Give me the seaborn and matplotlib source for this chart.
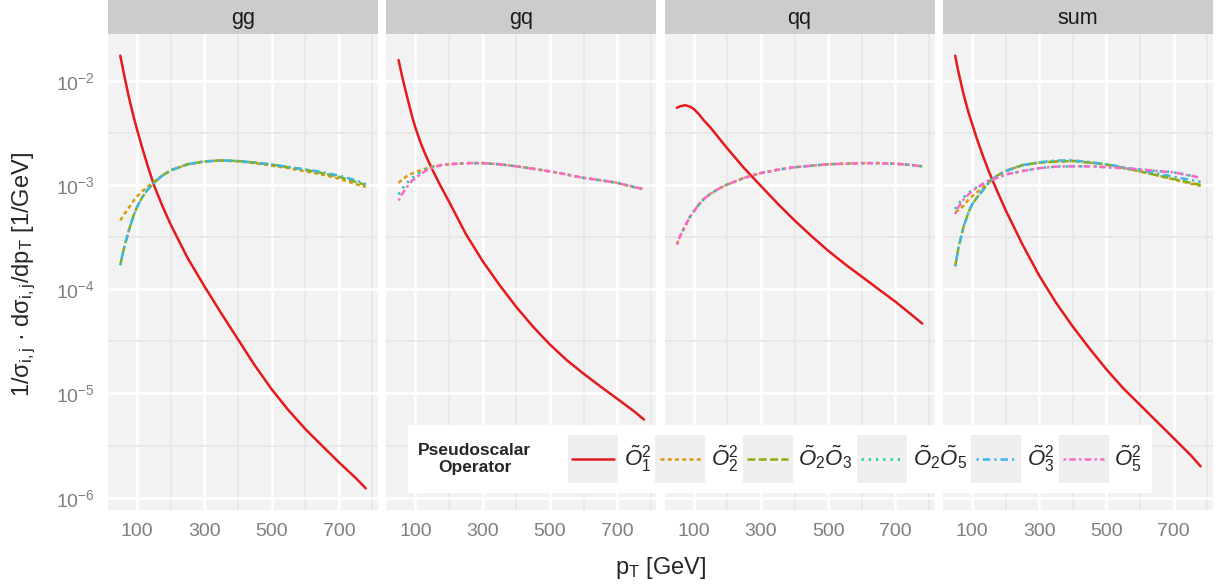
import numpy as np
import pandas as pd
import matplotlib
matplotlib.use("Agg")
import matplotlib.pyplot as plt
import seaborn as sns
from matplotlib.lines import Line2D
from matplotlib.patches import Rectangle
from matplotlib.legend_handler import HandlerBase
from matplotlib.font_manager import FontProperties
from matplotlib.offsetbox import DrawingArea
from matplotlib.ticker import FixedLocator, FuncFormatter, NullFormatter

# ---------------- data ----------------
pt = [50, 60, 75, 90, 100, 115, 130, 150, 175, 200, 250, 300, 350, 400, 450, 500, 550, 600, 650, 700, 750, 780]
channels = ["gg", "gq", "qq", "sum"]
operators = ["O1sq", "O2sq", "O2O3", "O2O5", "O3sq", "O5sq"]
op_labels = [r"$\tilde{O}_1^2$", r"$\tilde{O}_2^2$", r"$\tilde{O}_2\tilde{O}_3$",
             r"$\tilde{O}_2\tilde{O}_5$", r"$\tilde{O}_3^2$", r"$\tilde{O}_5^2$"]

# gg channel
gg_O1sq = [1.74e-2, 1.20e-2, 7.08e-3, 4.47e-3, 3.39e-3, 2.29e-3, 1.58e-3, 1.0e-3, 6.31e-4, 4.17e-4, 2.0e-4,
           1.07e-4, 5.89e-5, 3.31e-5, 1.86e-5, 1.10e-5, 6.92e-6, 4.57e-6, 3.16e-6, 2.19e-6, 1.55e-6, 1.23e-6]
gg_O2sq = [4.57e-4, 5.13e-4, 6.03e-4, 7.08e-4, 7.76e-4, 8.71e-4, 9.55e-4, 1.07e-3, 1.23e-3, 1.38e-3, 1.58e-3,
           1.68e-3, 1.72e-3, 1.68e-3, 1.62e-3, 1.53e-3, 1.45e-3, 1.35e-3, 1.26e-3, 1.15e-3, 1.02e-3, 9.55e-4]
gg_O2O3 = [1.70e-4, 2.40e-4, 3.63e-4, 5.13e-4, 6.17e-4, 7.59e-4, 8.91e-4, 1.05e-3, 1.23e-3, 1.38e-3, 1.58e-3,
           1.68e-3, 1.72e-3, 1.70e-3, 1.64e-3, 1.57e-3, 1.48e-3, 1.40e-3, 1.30e-3, 1.20e-3, 1.07e-3, 1.0e-3]
gg_O3sq = [1.70e-4, 2.40e-4, 3.63e-4, 5.13e-4, 6.17e-4, 7.59e-4, 8.91e-4, 1.05e-3, 1.23e-3, 1.38e-3, 1.58e-3,
           1.68e-3, 1.72e-3, 1.70e-3, 1.64e-3, 1.57e-3, 1.49e-3, 1.41e-3, 1.33e-3, 1.23e-3, 1.11e-3, 1.02e-3]

# gq channel
gq_O1sq = [1.58e-2, 1.12e-2, 7.08e-3, 4.57e-3, 3.55e-3, 2.57e-3, 1.95e-3, 1.41e-3, 9.77e-4, 6.92e-4, 3.39e-4,
           1.86e-4, 1.10e-4, 6.76e-5, 4.37e-5, 2.95e-5, 2.09e-5, 1.55e-5, 1.17e-5, 8.91e-6, 6.76e-6, 5.62e-6]
gq_O2sq = [1.05e-3, 1.12e-3, 1.22e-3, 1.29e-3, 1.33e-3, 1.38e-3, 1.43e-3, 1.50e-3, 1.55e-3, 1.58e-3, 1.62e-3,
           1.62e-3, 1.58e-3, 1.51e-3, 1.43e-3, 1.35e-3, 1.26e-3, 1.17e-3, 1.11e-3, 1.05e-3, 9.55e-4, 9.12e-4]
gq_O2O5 = [8.13e-4, 9.12e-4, 1.05e-3, 1.16e-3, 1.23e-3, 1.32e-3, 1.40e-3, 1.48e-3, 1.55e-3, 1.58e-3, 1.62e-3,
           1.62e-3, 1.58e-3, 1.51e-3, 1.43e-3, 1.35e-3, 1.26e-3, 1.17e-3, 1.11e-3, 1.05e-3, 9.55e-4, 9.12e-4]
gq_O5sq = [7.08e-4, 8.13e-4, 9.55e-4, 1.10e-3, 1.16e-3, 1.27e-3, 1.36e-3, 1.46e-3, 1.55e-3, 1.58e-3, 1.62e-3,
           1.62e-3, 1.58e-3, 1.51e-3, 1.43e-3, 1.35e-3, 1.26e-3, 1.17e-3, 1.11e-3, 1.05e-3, 9.55e-4, 9.12e-4]

# qq channel
qq_O1sq = [5.50e-3, 5.69e-3, 5.82e-3, 5.62e-3, 5.37e-3, 4.79e-3, 4.17e-3, 3.55e-3, 2.82e-3, 2.24e-3, 1.45e-3,
           9.77e-4, 6.61e-4, 4.57e-4, 3.24e-4, 2.34e-4, 1.74e-4, 1.32e-4, 1.0e-4, 7.59e-5, 5.62e-5, 4.68e-5]
qq_O2sq = [2.69e-4, 3.24e-4, 4.07e-4, 5.01e-4, 5.56e-4, 6.46e-4, 7.33e-4, 8.22e-4, 9.23e-4, 1.01e-3, 1.17e-3,
           1.30e-3, 1.40e-3, 1.48e-3, 1.53e-3, 1.58e-3, 1.60e-3, 1.62e-3, 1.62e-3, 1.60e-3, 1.55e-3, 1.51e-3]
qq_O2O5 = list(qq_O2sq)
qq_O5sq = list(qq_O2sq)

# sum over channels
sum_O1sq = [1.74e-2, 1.20e-2, 7.41e-3, 4.90e-3, 3.89e-3, 2.75e-3, 2.0e-3, 1.35e-3, 8.71e-4, 5.75e-4, 2.69e-4,
            1.35e-4, 7.41e-5, 4.37e-5, 2.69e-5, 1.70e-5, 1.12e-5, 7.76e-6, 5.37e-6, 3.72e-6, 2.57e-6, 2.0e-6]
sum_O2sq = [5.50e-4, 5.75e-4, 6.31e-4, 7.24e-4, 7.76e-4, 8.51e-4, 9.33e-4, 1.06e-3, 1.23e-3, 1.36e-3, 1.55e-3,
            1.64e-3, 1.68e-3, 1.70e-3, 1.64e-3, 1.57e-3, 1.46e-3, 1.35e-3, 1.24e-3, 1.13e-3, 1.03e-3, 9.77e-4]
sum_O2O3 = [1.66e-4, 2.51e-4, 3.98e-4, 5.50e-4, 6.46e-4, 7.59e-4, 8.71e-4, 1.06e-3, 1.23e-3, 1.36e-3, 1.55e-3,
            1.64e-3, 1.68e-3, 1.70e-3, 1.64e-3, 1.57e-3, 1.46e-3, 1.35e-3, 1.24e-3, 1.14e-3, 1.05e-3, 1.0e-3]
sum_O2O5 = [5.89e-4, 6.61e-4, 7.59e-4, 8.41e-4, 8.91e-4, 9.55e-4, 1.02e-3, 1.10e-3, 1.17e-3, 1.26e-3, 1.36e-3,
            1.45e-3, 1.50e-3, 1.51e-3, 1.51e-3, 1.48e-3, 1.45e-3, 1.41e-3, 1.36e-3, 1.32e-3, 1.23e-3, 1.17e-3]
sum_O3sq = [1.66e-4, 2.51e-4, 3.98e-4, 5.50e-4, 6.46e-4, 7.59e-4, 8.71e-4, 1.06e-3, 1.23e-3, 1.36e-3, 1.55e-3,
            1.65e-3, 1.72e-3, 1.72e-3, 1.66e-3, 1.58e-3, 1.48e-3, 1.38e-3, 1.29e-3, 1.20e-3, 1.12e-3, 1.07e-3]
sum_O5sq = [5.25e-4, 6.17e-4, 7.24e-4, 8.13e-4, 8.71e-4, 9.44e-4, 1.01e-3, 1.10e-3, 1.17e-3, 1.26e-3, 1.36e-3,
            1.45e-3, 1.50e-3, 1.51e-3, 1.51e-3, 1.48e-3, 1.45e-3, 1.41e-3, 1.36e-3, 1.32e-3, 1.23e-3, 1.17e-3]

series = {
    ("gg", "O1sq"): gg_O1sq, ("gg", "O2sq"): gg_O2sq, ("gg", "O2O3"): gg_O2O3, ("gg", "O3sq"): gg_O3sq,
    ("gq", "O1sq"): gq_O1sq, ("gq", "O2sq"): gq_O2sq, ("gq", "O2O5"): gq_O2O5, ("gq", "O5sq"): gq_O5sq,
    ("qq", "O1sq"): qq_O1sq, ("qq", "O2sq"): qq_O2sq, ("qq", "O2O5"): qq_O2O5, ("qq", "O5sq"): qq_O5sq,
    ("sum", "O1sq"): sum_O1sq, ("sum", "O2sq"): sum_O2sq, ("sum", "O2O3"): sum_O2O3,
    ("sum", "O2O5"): sum_O2O5, ("sum", "O3sq"): sum_O3sq, ("sum", "O5sq"): sum_O5sq,
}
rows = []
for (ch, op), vals in series.items():
    for x, v in zip(pt, vals):
        rows.append({"channel": ch, "op": op, "pt": x, "value": v})
df = pd.DataFrame(rows)

# ---------------- styling ----------------
colors = {"O1sq": "#E41A1C", "O2sq": "#D99A0E", "O2O3": "#8AAE0C",
          "O2O5": "#12CCA8", "O3sq": "#3DB8E6", "O5sq": "#FF66C8"}
dashes = {"O1sq": "", "O2sq": (1.6, 1.3), "O2O3": (3.2, 1.3), "O2O5": (0.9, 2.0),
          "O3sq": (0.9, 1.6, 3.0, 1.6), "O5sq": (1.0, 1.3, 2.6, 1.3)}
LW = 1.8

sns.set_theme(style="white")
plt.rcParams["font.family"] = ["Liberation Sans", "DejaVu Sans"]
plt.rcParams["mathtext.fontset"] = "custom"
plt.rcParams["mathtext.rm"] = "Liberation Sans"
plt.rcParams["mathtext.it"] = "Liberation Sans:italic"
plt.rcParams["mathtext.bf"] = "Liberation Sans:bold"
plt.rcParams["mathtext.sf"] = "Liberation Sans"

W, H = 1217, 586
fig = plt.figure(figsize=(W / 100, H / 100), dpi=100)
fig.patch.set_facecolor("white")

PANEL_BG = "#F2F2F2"
MINOR = "#E6E6E6"
STRIP = "#CCCCCC"
TICKC = "#808080"

x0, step, pw = 108, 278.3, 270
ytop, ybot, strip_h = 34, 510, 34

logmin = np.log10(df["value"].min())
logmax = np.log10(df["value"].max())
pad = 0.05 * (logmax - logmin)
ylim = (10 ** (logmin - pad), 10 ** (logmax + pad))
xpad = 0.05 * (max(pt) - min(pt))
xlim = (min(pt) - xpad, max(pt) + xpad)

for i, ch in enumerate(channels):
    left = (x0 + step * i) / W
    ax = fig.add_axes([left, (H - ybot) / H, pw / W, (ybot - ytop) / H])
    sub = df[df["channel"] == ch]
    present = [o for o in operators if o in set(sub["op"])]
    sns.lineplot(data=sub, x="pt", y="value", hue="op", style="op",
                 hue_order=present, style_order=present,
                 palette={o: colors[o] for o in present},
                 dashes={o: dashes[o] for o in present},
                 linewidth=LW, legend=False, ax=ax, estimator=None, sort=True)
    ax.set_yscale("log")
    ax.set_xlim(xlim)
    ax.set_ylim(ylim)
    ax.set_facecolor(PANEL_BG)
    for s in ax.spines.values():
        s.set_visible(False)
    ax.xaxis.set_major_locator(FixedLocator([100, 300, 500, 700]))
    ax.xaxis.set_minor_locator(FixedLocator([200, 400, 600, 800]))
    ax.yaxis.set_major_locator(FixedLocator([1e-6, 1e-5, 1e-4, 1e-3, 1e-2]))
    ax.yaxis.set_minor_locator(FixedLocator([10 ** (-e - 0.5) for e in range(2, 6)]))
    ax.xaxis.set_minor_formatter(NullFormatter())
    ax.yaxis.set_minor_formatter(NullFormatter())
    ax.grid(which="major", color="white", linewidth=1.9)
    ax.grid(which="minor", color=MINOR, linewidth=1.3)
    ax.set_axisbelow(True)
    ax.tick_params(which="major", length=6.5, width=1.7, color=TICKC,
                   labelcolor="#7F7F7F", labelsize=14, pad=3)
    ax.tick_params(which="minor", length=0)
    ax.set_xlabel("")
    ax.set_ylabel("")
    if i == 0:
        ax.yaxis.set_major_formatter(FuncFormatter(lambda v, p: r"$10^{%d}$" % int(round(np.log10(v)))))
    else:
        ax.tick_params(axis="y", which="major", length=0, labelleft=False)
    # facet strip
    sax = fig.add_axes([left, (H - ytop) / H, pw / W, strip_h / H])
    sax.set_facecolor(STRIP)
    sax.set_xticks([])
    sax.set_yticks([])
    for s in sax.spines.values():
        s.set_visible(False)
    sax.text(0.5, 0.45, ch, ha="center", va="center", fontsize=15.5, color="#1A1A1A",
             transform=sax.transAxes)

fig.text((x0 + step * 1.5 + pw / 2) / W, 1 - 568 / H, r"p$_\mathrm{T}$ [GeV]",
         ha="center", va="center", fontsize=17)
fig.text(24 / W, 1 - 275 / H,
         "1/σ$_\\mathrm{i,j}$ · dσ$_\\mathrm{i,j}$/dp$_\\mathrm{T}$ [1/GeV]",
         ha="center", va="center", rotation=90, fontsize=17)


# ---------------- legend ----------------
class KeyHandler(HandlerBase):
    """ggplot-like legend key: grey square with the line centred in it."""
    def create_artists(self, legend, orig_handle, xdescent, ydescent, width, height, fontsize, trans):
        rect = Rectangle((-xdescent, -ydescent), width, height, facecolor="#EFEFEF",
                         edgecolor="none", transform=trans)
        yc = -ydescent + height / 2.0
        padx = 0.2 * fontsize
        ln = Line2D([-xdescent + padx, -xdescent + width - padx], [yc, yc])
        ln.update_from(orig_handle)
        ln.set_transform(trans)
        return [rect, ln]


handles = []
for o in operators:
    if dashes[o] == "":
        ln = Line2D([], [], color=colors[o], lw=LW, linestyle="-")
    else:
        ln = Line2D([], [], color=colors[o], lw=LW, dashes=dashes[o])
    handles.append(ln)

leg = fig.legend(handles, op_labels, loc="center",
                 bbox_to_anchor=(780 / W, 1 - 459 / H), ncol=6,
                 handler_map={Line2D: KeyHandler()},
                 handlelength=2.25, handleheight=2.88, handletextpad=0.25,
                 columnspacing=0.2, borderpad=0.47, fontsize=16,
                 frameon=True, fancybox=False, facecolor="white", edgecolor="none",
                 framealpha=1, title="Pseudoscalar\nOperator",
                 title_fontproperties=FontProperties(family=["Liberation Sans"],
                                                     weight="bold", size=12.5))
leg.get_title().set_multialignment("center")
vbox = leg._legend_box
title_box, hbox = vbox.get_children()
vbox._children = [hbox]
hbox._children.insert(0, title_box)
hbox._children.insert(1, DrawingArea(20, 1))
hbox.align = "center"

fig.savefig("out.png", dpi=100, facecolor="white")
